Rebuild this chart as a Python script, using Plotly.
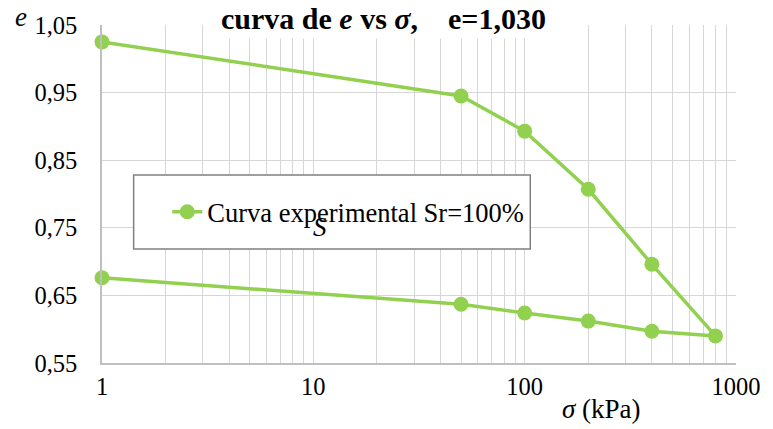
import plotly.graph_objects as go

# Data
sigma = [1, 50, 100, 200, 400, 800, 400, 200, 100, 50, 1]
e_vals = [1.025, 0.945, 0.893, 0.807, 0.696, 0.590, 0.597, 0.612, 0.624, 0.637, 0.676]
series_name = "Curva experimental Sr=100%"

y_ticks = [0.55, 0.65, 0.75, 0.85, 0.95, 1.05]
y_ticktext = ["0,55", "0,65", "0,75", "0,85", "0,95", "1,05"]
x_decades = [1, 10, 100, 1000]

GREEN = "#92D050"
FONT = "Liberation Serif"

# x gridlines at every log minor position
x_ticks = []
x_ticktext = []
for d in x_decades[:-1]:
    for m in range(1, 10):
        x_ticks.append(d * m)
        x_ticktext.append(str(d) if m == 1 else "")
x_ticks.append(x_decades[-1])
x_ticktext.append(str(x_decades[-1]))

fig = go.Figure()
fig.add_trace(go.Scatter(
    x=sigma, y=e_vals, mode="lines+markers", name=series_name,
    line=dict(color=GREEN, width=3.5),
    marker=dict(color=GREEN, size=15),
    cliponaxis=False, showlegend=True,
))

W, H = 773, 429
L, R, T, B = 102, 30, 25, 66
pw, ph = W - L - R, H - T - B

def px(x):
    return (x - L) / pw

def py(y):
    return 1 - (y - T) / ph

fig.update_layout(
    width=W, height=H,
    margin=dict(l=L, r=R, t=T, b=B),
    paper_bgcolor="white", plot_bgcolor="white",
    font=dict(family=FONT, size=24, color="black"),
    xaxis=dict(
        type="log", range=[0, 3],
        tickvals=x_ticks, ticktext=x_ticktext,
        showgrid=True, gridcolor="#d6d6d6", gridwidth=1,
        showline=True, linecolor="#bfbfbf", linewidth=1.5,
        ticks="outside", ticklen=1, tickcolor="rgba(0,0,0,0)",
        tickfont=dict(family=FONT, size=24.5), zeroline=False,
    ),
    yaxis=dict(
        range=[0.55, 1.05],
        tickvals=y_ticks, ticktext=y_ticktext,
        showgrid=True, gridcolor="#d6d6d6", gridwidth=1,
        showline=True, linecolor="#bfbfbf", linewidth=1.5,
        ticks="outside", ticklen=18, tickcolor="rgba(0,0,0,0)",
        tickfont=dict(family=FONT, size=24.5), zeroline=False,
    ),
    showlegend=True,
    legend=dict(
        x=px(168), y=py(212), xanchor="left", yanchor="middle",
        bgcolor="rgba(0,0,0,0)", borderwidth=0,
        font=dict(family=FONT, size=26.5, color="black"),
    ),
    shapes=[dict(
        type="rect", xref="paper", yref="paper",
        x0=px(134), x1=px(535), y0=py(249), y1=py(175),
        line=dict(color="#808080", width=1.5), fillcolor="white", layer="above",
    )],
    annotations=[
        dict(text="<b>curva de <i>e</i> vs <i>σ</i>,\u00a0\u00a0\u00a0\u00a0e=1,030</b>",
             xref="paper", yref="paper", x=px(387), y=py(19),
             xanchor="center", yanchor="middle", showarrow=False,
             font=dict(family=FONT, size=30), bgcolor="white", borderpad=3),
        dict(text="<i>e</i>", xref="paper", yref="paper", x=px(20), y=py(17),
             xanchor="center", yanchor="middle", showarrow=False,
             font=dict(family=FONT, size=27)),
        dict(text="<i>σ</i> (kPa)", xref="paper", yref="paper", x=px(607), y=py(409),
             xanchor="center", yanchor="middle", showarrow=False,
             font=dict(family=FONT, size=27)),
        dict(text="<i>S</i>", xref="paper", yref="paper", x=px(322), y=py(227),
             xanchor="center", yanchor="middle", showarrow=False,
             font=dict(family=FONT, size=27)),
    ],
)

fig.write_html("out.html")
